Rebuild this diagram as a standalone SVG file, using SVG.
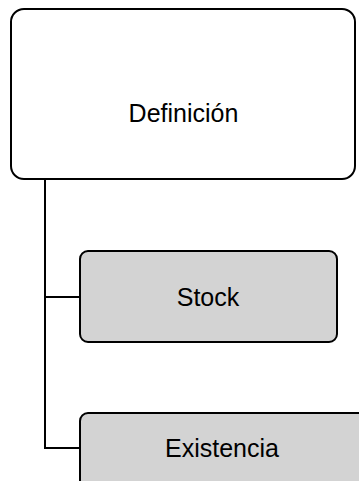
<svg xmlns="http://www.w3.org/2000/svg" width="359" height="481" viewBox="0 0 359 481">
<style>
.box{stroke:#000;stroke-width:2}
.root{fill:#fff}
.child{fill:#d3d3d3}
.lbl{font-family:"Liberation Sans",Arial,sans-serif;font-size:25px;fill:#000;text-anchor:middle}
.conn{fill:none;stroke:#000;stroke-width:2}
</style>
<rect width="359" height="481" fill="#fff"/>
<g id="connectors">
<path class="conn" d="M45,179 V448 H80"/>
<path class="conn" d="M45,297 H80"/>
</g>
<g id="definicion">
<rect class="box root" x="11" y="9" width="344" height="170" rx="13"/>
<text class="lbl" x="183.5" y="122">Definición</text>
</g>
<g id="stock">
<rect class="box child" x="80" y="251" width="257" height="91" rx="8"/>
<text class="lbl" x="208" y="306">Stock</text>
</g>
<g id="existencia">
<rect class="box child" x="80" y="413" width="290" height="91" rx="8"/>
<text class="lbl" x="222" y="456.5">Existencia</text>
</g>
</svg>
